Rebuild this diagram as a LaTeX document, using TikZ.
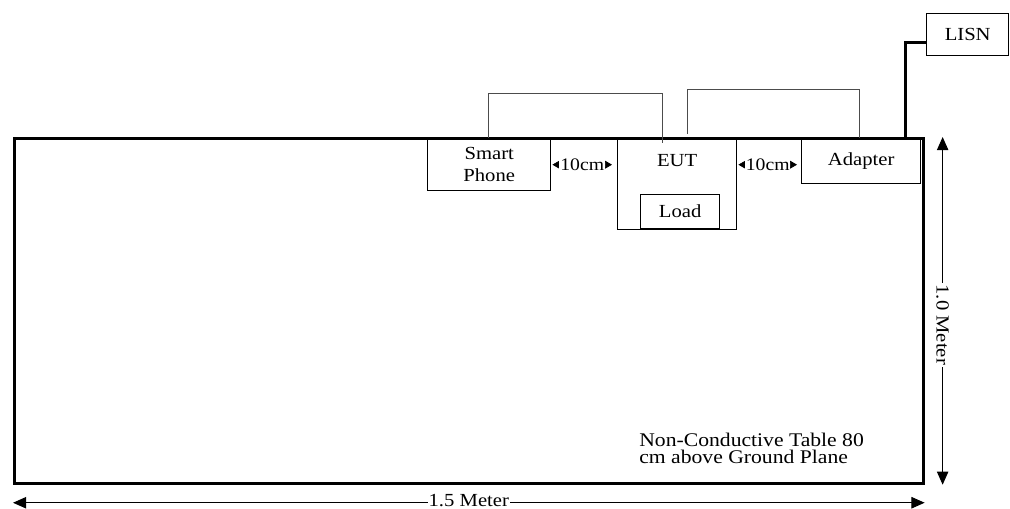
\documentclass[tikz,border=0pt]{standalone}
\usepackage{fontspec}
\setmainfont{Liberation Serif}[FakeStretch=1.12]
\usetikzlibrary{calc}
\usetikzlibrary{arrows.meta}

\tikzset{
	box/.style = {draw, line width = 0.8pt, inner sep = 0pt, align = center, font = \fontsize{10.5}{12.5}\selectfont},
	cable/.style = {draw, line width = 0.5pt, black!70},
	power/.style = {draw, line width = 1.6pt},
	dim/.style = {semithick, {Triangle[length = 7.5pt, width = 6.5pt]}-{Triangle[length = 7.5pt, width = 6.5pt]}},
	gap/.style = {thin, {Triangle[length = 4pt, width = 4.5pt]}-{Triangle[length = 4pt, width = 4.5pt]}}
}

\begin{document}
\begin{tikzpicture}[x = 0.02cm, y = -0.02cm]
				\useasboundingbox (0, 0) rectangle (1010, 509);

				\node[draw, line width = 1.6pt, minimum width = 18.18cm, minimum height = 6.9cm, anchor = north west](table) at (13, 137){};

				\node[box, minimum width = 2.46cm, minimum height = 1.04cm, anchor = north west](phone) at (427, 138){Smart\\Phone};
				\node[box, minimum width = 2.38cm, minimum height = 1.82cm, anchor = north west](eut) at (617, 138){};
				\node[font = \fontsize{10.5}{12.5}\selectfont, anchor = north](euttext) at ($(eut.north)+(0, 10)$){EUT};
				\node[box, minimum width = 1.58cm, minimum height = 0.68cm, anchor = south west](load) at (640, 229){Load};
				\node[box, minimum width = 2.38cm, minimum height = 0.9cm, anchor = north west](adapter) at (801, 138){Adapter};
				\node[box, minimum width = 1.64cm, minimum height = 0.84cm, anchor = north west](lisn) at (926, 13){LISN};

				% cables
				\draw[cable] ($(phone.north west)+(61, 0)$) -- ++(0, -45) -| ($(eut.north west)+(45, 5)$);
				\draw[cable] ($(eut.north west)+(70, -4)$) -- ++(0, -45) -| ($(adapter.north west)+(58, 0)$);
				\draw[power] ($(adapter.north east)+(-16, 0)$) |- ($(lisn.west)+(0, 8)$);

				% distances
				\draw[gap] ($(phone.east)+(1, 0)$) -- ($(eut.west |- phone.east)+(-5, 0)$) node[midway, fill = white, inner sep = 0.5pt, font = \fontsize{10}{11}\selectfont]{10cm};
				\draw[gap] ($(eut.east |- phone.east)+(1, 0)$) -- ($(adapter.west |- phone.east)+(-4, 0)$) node[midway, fill = white, inner sep = 0.5pt, font = \fontsize{10}{11}\selectfont]{10cm};

				\draw[dim] ($(table.south west)+(0, 18)$) -- ($(table.south east)+(0, 18)$) node[midway, anchor = base, yshift = -2pt, fill = white, inner sep = 0.5pt, font = \fontsize{10.5}{12}\selectfont]{1.5 Meter};
				\draw[dim] ($(table.north east)+(18, 0)$) -- ($(table.south east)+(18, 0)$) node[pos = 0.54, fill = white, inner sep = 1pt, rotate = -90, font = \fontsize{10.5}{12}\selectfont]{1.0 Meter};

				\node[anchor = north west, align = left, inner sep = 0pt, font = \fontsize{11}{9.6}\selectfont](note) at (639, 433){Non-Conductive Table 80\\cm above Ground Plane};
			\end{tikzpicture}
\end{document}
